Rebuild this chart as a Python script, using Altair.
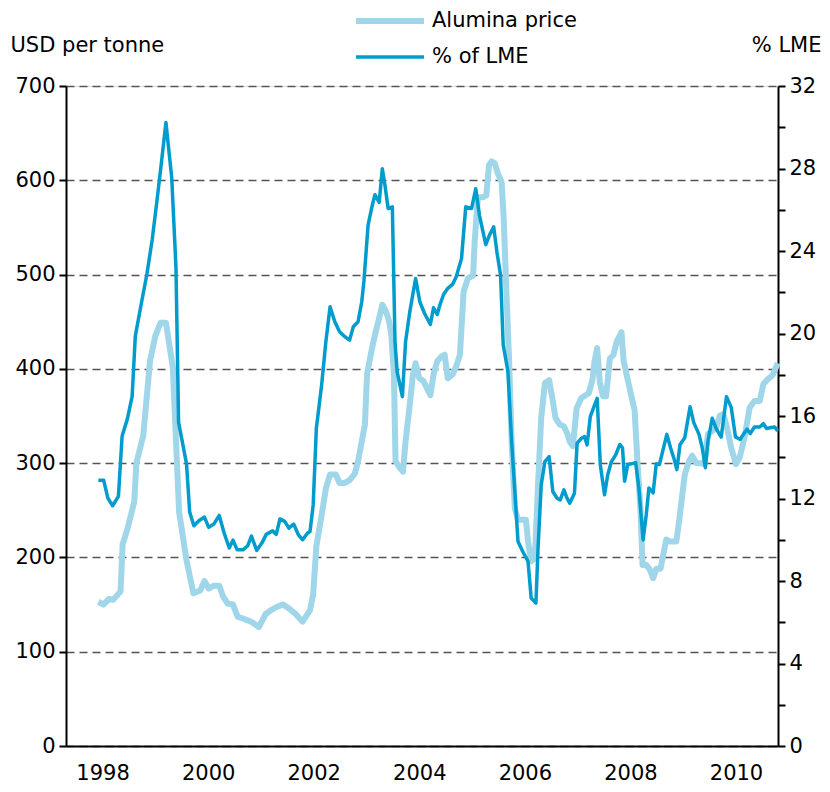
import altair as alt
import pandas as pd

# ---- data ----
series_names = ["Alumina price", "% of LME"]
series_colors = ["#9fd6ea", "#009ccd"]
series_widths = [6, 3.5]

alumina_year = [
    1997.92, 1998.02, 1998.12, 1998.20, 1998.34, 1998.38, 1998.47, 1998.60, 1998.64, 1998.77,
    1998.90, 1999.00, 1999.10, 1999.20, 1999.33, 1999.45, 1999.59, 1999.72, 1999.85, 1999.93,
    2000.01, 2000.11, 2000.21, 2000.28, 2000.37, 2000.47, 2000.56, 2000.67, 2000.76, 2000.84,
    2000.96, 2001.09, 2001.19, 2001.32, 2001.42,
    2001.55, 2001.64, 2001.72, 2001.79, 2001.86, 2001.93, 2001.99, 2002.05, 2002.15, 2002.23,
    2002.31, 2002.42, 2002.49, 2002.59, 2002.68, 2002.78, 2002.84, 2002.91, 2002.97, 2003.01,
    2003.09, 2003.16, 2003.24, 2003.30, 2003.37, 2003.43, 2003.47, 2003.52, 2003.55, 2003.63,
    2003.69, 2003.74, 2003.82, 2003.88, 2003.93, 2004.00, 2004.08, 2004.15, 2004.21, 2004.27,
    2004.34, 2004.42, 2004.48, 2004.54, 2004.63, 2004.69, 2004.77, 2004.84, 2004.92,
    2005.02, 2005.05, 2005.11, 2005.21, 2005.27, 2005.32, 2005.37, 2005.43, 2005.49, 2005.56,
    2005.60, 2005.65, 2005.70, 2005.75, 2005.81, 2005.87, 2006.02, 2006.06, 2006.12, 2006.19,
    2006.25, 2006.31, 2006.38, 2006.46, 2006.52, 2006.58, 2006.66, 2006.74, 2006.80, 2006.85,
    2006.91, 2006.98, 2007.07, 2007.15, 2007.21, 2007.28, 2007.32, 2007.37, 2007.42, 2007.48,
    2007.54, 2007.61, 2007.68, 2007.74, 2007.83,
    2007.87, 2007.95, 2008.08, 2008.14, 2008.19, 2008.23, 2008.30, 2008.36, 2008.43, 2008.49,
    2008.57, 2008.68, 2008.74, 2008.87, 2008.93, 2009.03, 2009.11, 2009.17, 2009.25, 2009.34,
    2009.40, 2009.47, 2009.55, 2009.63, 2009.69, 2009.76, 2009.83, 2009.91, 2010.00, 2010.07,
    2010.16, 2010.26, 2010.35, 2010.45, 2010.52, 2010.60, 2010.69, 2010.73, 2010.79,
]
alumina_usd = [
    153, 150, 156, 155, 164, 214, 230, 259, 300, 329,
    409, 435, 449, 449, 402, 248, 197, 162, 165, 175,
    167, 170, 170, 159, 151, 150, 137, 135, 133, 131,
    126, 140, 144, 148, 150,
    145, 141, 136, 132, 138, 144, 161, 212, 245, 273,
    288, 288, 279, 279, 282, 289, 302, 323, 341, 394,
    418, 436, 454, 468, 461, 450, 436, 394, 302, 295,
    291, 323, 362, 394, 406, 390, 387, 379, 372, 394,
    408, 413, 415, 390, 394, 401, 415, 482, 496,
    499, 535, 582, 582, 584, 616, 620, 618, 607, 598,
    559, 482, 411, 323, 252, 240, 240, 217, 196, 199,
    277, 348, 385, 388, 369, 348, 341, 339, 332, 323,
    318, 358, 369, 372, 374, 388, 408, 422, 386, 371,
    371, 411, 415, 429, 439,
    409, 388, 356, 295, 252, 192, 192, 188, 178, 188,
    188, 219, 217, 217, 242, 288, 302, 308, 300, 300,
    299, 331, 334, 338, 350, 352, 338, 316, 299, 306,
    327, 359, 366, 366, 384, 389, 393, 398, 406,
]

lme_year = [
    1997.92, 1998.02, 1998.10, 1998.19, 1998.30, 1998.37, 1998.47, 1998.56, 1998.62, 1998.74,
    1998.84, 1998.94, 1999.03, 1999.12, 1999.20, 1999.31, 1999.39, 1999.44, 1999.59, 1999.65,
    1999.73, 1999.83, 1999.93, 2000.01, 2000.11, 2000.21, 2000.30, 2000.40, 2000.47, 2000.55,
    2000.66, 2000.75, 2000.82, 2000.92, 2001.02, 2001.10, 2001.22, 2001.29,
    2001.36, 2001.45, 2001.53, 2001.62, 2001.71, 2001.79, 2001.88, 2001.93, 2001.99, 2002.05,
    2002.15, 2002.23, 2002.31, 2002.40, 2002.49, 2002.59, 2002.68, 2002.75, 2002.84, 2002.91,
    2002.95, 2003.03, 2003.11, 2003.16, 2003.24, 2003.30, 2003.35, 2003.41, 2003.49, 2003.54,
    2003.58, 2003.68, 2003.74, 2003.82, 2003.93, 2004.01, 2004.10, 2004.21, 2004.27, 2004.34,
    2004.39, 2004.46, 2004.54, 2004.63, 2004.70, 2004.80, 2004.88, 2004.99,
    2005.07, 2005.14, 2005.26, 2005.33, 2005.41, 2005.47, 2005.54, 2005.59, 2005.68, 2005.75,
    2005.81, 2005.87, 2005.96, 2006.06, 2006.12, 2006.21, 2006.25, 2006.31, 2006.38, 2006.46,
    2006.53, 2006.61, 2006.67, 2006.74, 2006.80, 2006.85, 2006.94, 2006.99, 2007.07, 2007.13,
    2007.18, 2007.24, 2007.32, 2007.37, 2007.43, 2007.51, 2007.57, 2007.64, 2007.72,
    2007.80, 2007.85, 2007.89, 2007.95, 2008.02, 2008.10, 2008.16, 2008.24, 2008.30, 2008.35,
    2008.43, 2008.49, 2008.55, 2008.62, 2008.69, 2008.76, 2008.82, 2008.88, 2008.94, 2009.03,
    2009.13, 2009.20, 2009.30, 2009.36, 2009.42, 2009.47, 2009.55, 2009.63, 2009.72, 2009.82,
    2009.91, 2009.99, 2010.08, 2010.14, 2010.21, 2010.27, 2010.35, 2010.45, 2010.52, 2010.58,
    2010.67, 2010.73, 2010.79,
]
lme_pct = [
    12.89, 12.89, 12.02, 11.65, 12.10, 15.03, 15.86, 16.95, 19.87, 21.54,
    22.88, 24.55, 26.43, 28.40, 30.23, 27.56, 23.22, 15.69, 13.69, 11.35,
    10.68, 10.93, 11.10, 10.60, 10.77, 11.18, 10.35, 9.60, 9.98, 9.51,
    9.51, 9.71, 10.18, 9.48, 9.85, 10.26, 10.43, 10.26,
    11.01, 10.89, 10.56, 10.76, 10.24, 10.00, 10.32, 10.40, 11.69, 15.41,
    17.50, 19.60, 21.30, 20.57, 20.09, 19.84, 19.68, 20.33, 20.57, 21.54,
    22.50, 25.25, 26.22, 26.73, 26.35, 27.99, 27.19, 26.06, 26.14, 19.60,
    18.15, 16.94, 19.60, 21.05, 22.67, 21.54, 20.97, 20.44, 21.25, 20.92,
    21.38, 21.89, 22.19, 22.38, 22.75, 23.63, 26.14, 26.06,
    27.02, 25.73, 24.31, 24.77, 25.17, 23.96, 22.83, 19.44, 18.15, 14.76,
    12.34, 9.92, 9.43, 8.95, 7.17, 6.93, 9.59, 12.66, 13.79, 14.03,
    12.34, 12.01, 11.93, 12.42, 12.01, 11.77, 12.26, 14.68, 14.92, 15.00,
    14.60, 15.97, 16.53, 16.86, 13.63, 12.18, 13.15, 13.79, 14.11,
    14.62, 14.46, 12.84, 13.65, 13.68, 13.73, 12.51, 9.99, 11.21, 12.51,
    12.27, 13.68, 13.65, 14.38, 15.11, 14.46, 13.98, 13.40, 14.62, 14.95,
    16.45, 15.68, 15.11, 14.46, 13.49, 14.79, 15.89, 15.36, 14.98, 16.94,
    16.42, 14.98, 14.87, 15.11, 15.36, 15.15, 15.47, 15.47, 15.63, 15.39,
    15.44, 15.47, 15.28,
]

year_ticks = [1998, 2000, 2002, 2004, 2006, 2008, 2010]
usd_ticks = [0, 100, 200, 300, 400, 500, 600, 700]
pct_ticks = list(range(0, 33, 2))

df_a = pd.DataFrame({"year": alumina_year, "value": alumina_usd, "series": series_names[0]})
df_b = pd.DataFrame({"year": lme_year, "value": lme_pct, "series": series_names[1]})

FONT = "DejaVu Sans"
FS = 21

x_enc = alt.X(
    "year:Q",
    scale=alt.Scale(domain=[1997.307, 2010.796], nice=False, zero=False),
    axis=alt.Axis(values=year_ticks, format="d", ticks=False, grid=False,
                  domainColor="black", domainWidth=2, labelPadding=16,
                  labelFont=FONT, labelFontSize=FS, labelColor="black", title=None),
)

legend_kw = dict(
    orient="none", legendX=311, legendY=-78, title=None,
    symbolType="M-3.4,0H3.4", symbolSize=400,
    labelFont=FONT, labelFontSize=FS, labelColor="black",
    labelOffset=29, rowPadding=12, padding=0,
)
color_enc = alt.Color("series:N", scale=alt.Scale(domain=series_names, range=series_colors),
                      legend=alt.Legend(**legend_kw))
width_enc = alt.StrokeWidth("series:N",
                            scale=alt.Scale(type="ordinal", domain=series_names, range=series_widths),
                            legend=alt.Legend(**legend_kw))

alumina = alt.Chart(df_a).mark_line(strokeJoin="round").encode(
    x=x_enc,
    y=alt.Y("value:Q", scale=alt.Scale(domain=[0, 700], nice=False),
            axis=alt.Axis(values=usd_ticks, orient="left", grid=True,
                          gridDash=[8, 5], gridColor="#555555", gridWidth=1.3,
                          domainColor="black", domainWidth=2,
                          tickColor="black", tickWidth=2, tickSize=7,
                          labelFont=FONT, labelFontSize=FS, labelColor="black", labelPadding=4,
                          title="USD per tonne", titleAngle=0, titleAlign="left",
                          titleBaseline="middle", titleX=-56, titleY=-41,
                          titleFont=FONT, titleFontSize=FS, titleFontWeight="normal",
                          titleColor="black")),
    color=color_enc,
    strokeWidth=width_enc,
)

lme = alt.Chart(df_b).mark_line(strokeJoin="round").encode(
    x=x_enc,
    y=alt.Y("value:Q", scale=alt.Scale(domain=[0, 32], nice=False),
            axis=alt.Axis(values=pct_ticks, orient="right", grid=False,
                          labelExpr="datum.value % 4 == 0 ? datum.label : ''",
                          domainColor="black", domainWidth=2,
                          tickColor="black", tickWidth=2, tickSize=7,
                          labelFont=FONT, labelFontSize=FS, labelColor="black", labelPadding=4,
                          title="% LME", titleAngle=0, titleAlign="right",
                          titleBaseline="middle", titleX=43, titleY=-41,
                          titleFont=FONT, titleFontSize=FS, titleFontWeight="normal",
                          titleColor="black")),
    color=color_enc,
    strokeWidth=width_enc,
)

chart = alt.layer(alumina, lme).resolve_scale(y="independent").properties(
    width=712, height=660,
    autosize=alt.AutoSizeParams(type="none"),
    padding={"left": 58, "top": 78, "right": 44, "bottom": 38},
).configure_view(stroke=None).configure(background="white")

chart.save("out.html", embed_options={"renderer": "svg", "actions": False})
